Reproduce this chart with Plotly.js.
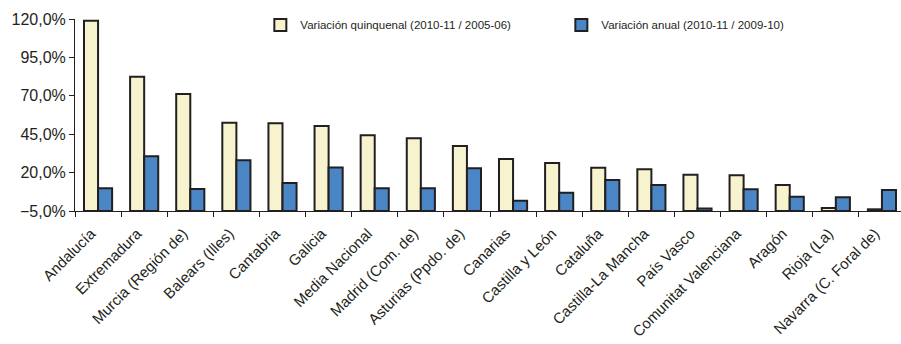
<!DOCTYPE html>
<html>
<head>
<meta charset="utf-8">
<script src="https://cdn.plot.ly/plotly-3.0.1.min.js"></script>
<style>html,body{margin:0;padding:0;background:#fff;overflow:hidden;}#chart{width:905px;height:344px;}</style>
</head>
<body>
<div id="chart"></div>
<script>
const categories = ["Andalucía","Extremadura","Murcia (Región de)","Balears (Illes)","Cantabria","Galicia","Media Nacional","Madrid (Com. de)","Asturias (Ppdo. de)","Canarias","Castilla y León","Cataluña","Castilla-La Mancha","País Vasco","Comunitat Valenciana","Aragón","Rioja (La)","Navarra (C. Foral de)"];
const quinquenal = [118.8, 82.4, 71.2, 52.5, 52.1, 50.3, 44.3, 42.3, 37.3, 28.9, 26.3, 23.2, 22.1, 18.6, 18.2, 11.9, -3.0, -3.9];
const anual = [9.8, 30.6, 9.3, 28.0, 13.2, 23.4, 9.8, 9.8, 22.8, 1.7, 6.9, 15.2, 11.9, -3.3, 9.1, 4.3, 3.9, 8.7];
const seriesNames = ["Variación quinquenal (2010-11 / 2005-06)", "Variación anual (2010-11 / 2009-10)"];
const axisMin = -5, axisMax = 120;

const lineStyle = {color: "#231f20", width: 2};
const traces = [
  {type: "bar", name: seriesNames[0], x: categories, base: axisMin,
   y: quinquenal.map(v => v - axisMin), customdata: quinquenal,
   marker: {color: "#f8f3cf", line: lineStyle}},
  {type: "bar", name: seriesNames[1], x: categories, base: axisMin,
   y: anual.map(v => v - axisMin), customdata: anual,
   marker: {color: "#4a85c6", line: lineStyle}}
];

const layout = {
  width: 905, height: 344,
  margin: {l: 74.6, r: 0, t: 19, b: 133},
  paper_bgcolor: "#fff", plot_bgcolor: "#fff",
  barmode: "group", bargap: 0.39, bargroupgap: 0,
  separators: ",.",
  font: {family: "Liberation Sans, Arial, sans-serif", color: "#231f20"},
  showlegend: true,
  legend: {orientation: "h", x: 0.2233, xanchor: "left", y: 0.969, yanchor: "middle",
           font: {size: 11.5, color: "#231f20"}, entrywidth: 256, entrywidthmode: "pixels",
           bgcolor: "rgba(0,0,0,0)", itemwidth: 30},
  xaxis: {type: "category", tickson: "boundaries", ticks: "outside", ticklen: 5,
          tickcolor: "#231f20", showline: true, linecolor: "#231f20", linewidth: 1,
          tickangle: -45, tickfont: {size: 15, color: "#231f20"}, showgrid: false,
          ticklabelstandoff: 7, ticklabelshift: -7, automargin: false},
  yaxis: {range: [axisMin, axisMax], tick0: -5, dtick: 25, tickformat: ".1f", ticksuffix: "%",
          ticks: "outside", ticklen: 5, tickcolor: "#231f20", showline: true,
          linecolor: "#231f20", linewidth: 1, showgrid: false, zeroline: false,
          tickfont: {size: 16, color: "#231f20"}, automargin: false}
};

Plotly.newPlot("chart", traces, layout, {displayModeBar: false, staticPlot: true});
</script>
</body>
</html>
